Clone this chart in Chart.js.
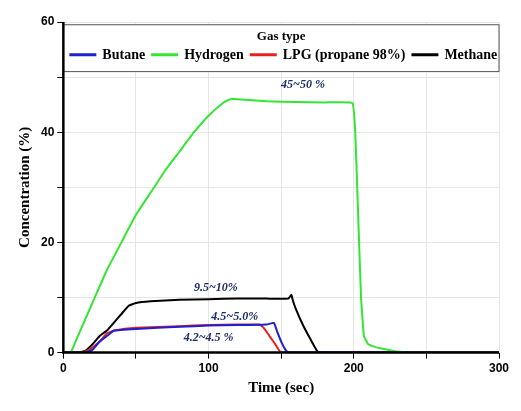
<!DOCTYPE html>
<html>
<head>
<script src="https://cdn.jsdelivr.net/npm/chart.js@4"></script>
<style>
body { margin: 0; background: #fff; }
#wrap { width: 521px; height: 411px; }
</style>
</head>
<body>
<div id="wrap"><canvas id="c"></canvas></div>
<script>
// [time, concentration] pairs
const hydrogen = [[0,0],[5,0],[10,3],[20,9],[30,15],[40,20],[50,25],[60,29],[70,33],[80,36.5],[90,40],[100,43],[110,45.3],[115,46],[120,46],[140,45.6],[160,45.5],[180,45.4],[199,45.3],[201,40],[203,25],[205,10],[207,3],[210,1.5],[215,1],[220,0.7],[230,0.2],[240,0],[300,0]]
const methane = [[0,0],[10,0],[15,0.3],[20,1.5],[25,3],[30,4],[35,5.5],[40,7],[45,8.5],[50,9],[60,9.3],[80,9.6],[100,9.7],[120,9.8],[140,9.8],[155,9.8],[157,10.5],[158,9.5],[160,8],[165,5],[170,2.5],[175,0.2],[180,0],[300,0]]
const butane = [[0,0],[15,0],[20,0.5],[25,2],[30,3],[35,4],[50,4.3],[80,4.7],[100,4.9],[120,5],[140,5.1],[145,5.4],[147,4],[150,2],[153,0.5],[155,0],[300,0]]
const lpg = [[0,0],[12,0],[18,0.5],[25,2],[30,3.5],[35,4],[50,4.5],[80,4.8],[100,5],[120,5.1],[135,5.1],[138,4.5],[142,3],[146,1.5],[150,0],[300,0]]

const seriesNames = ['Butane', 'Hydrogen', 'LPG (propane 98%)', 'Methane']
const seriesColors = ['#1f1fd0', '#33e633', '#e62020', '#000000']
const seriesData = [butane, hydrogen, lpg, methane]

// labels: [text, x, y]
const notes = [['45~50 %', 165, 48.5], ['9.5~10%', 105, 11.8], ['4.5~5.0%', 118, 6.5], ['4.2~4.5 %', 100, 2.6]]

const toPts = arr => arr.map(p => ({ x: p[0], y: p[1] }))

const overlay = {
    id: 'overlay',
    afterDatasetsDraw(chart) {
        const ctx = chart.ctx
        const xs = chart.scales.x, ys = chart.scales.y
        ctx.save()
        // value notes
        ctx.fillStyle = '#1a2a6a'
        ctx.font = 'italic bold 12px "Liberation Serif"'
        ctx.textAlign = 'center'
        ctx.textBaseline = 'middle'
        notes.forEach(n => ctx.fillText(n[0], xs.getPixelForValue(n[1]), ys.getPixelForValue(n[2])))
        // legend box
        const left = xs.left, right = xs.right
        const top = ys.getPixelForValue(59.5), bottom = ys.getPixelForValue(51)
        ctx.fillStyle = '#fff'
        ctx.fillRect(left, top, right - left, bottom - top)
        ctx.strokeStyle = '#555'
        ctx.lineWidth = 1
        ctx.strokeRect(left, top, right - left, bottom - top)
        ctx.fillStyle = '#000'
        ctx.font = 'bold 13px "Liberation Serif"'
        ctx.fillText('Gas type', (left + right) / 2, top + 12)
        ctx.font = 'bold 14px "Liberation Serif"'
        ctx.textAlign = 'left'
        let x = left + 6
        const y = top + 30
        seriesNames.forEach((name, i) => {
            ctx.strokeStyle = seriesColors[i]
            ctx.lineWidth = 3
            ctx.beginPath()
            ctx.moveTo(x, y)
            ctx.lineTo(x + 27, y)
            ctx.stroke()
            ctx.fillText(name, x + 33, y + 1)
            x += 33 + ctx.measureText(name).width + 6
        })
        // thick axis lines
        ctx.strokeStyle = '#000'
        ctx.lineWidth = 2.5
        ctx.beginPath()
        ctx.moveTo(left, ys.top)
        ctx.lineTo(left, ys.bottom)
        ctx.lineTo(right, ys.bottom)
        ctx.stroke()
        ctx.restore()
    }
}

new Chart(document.getElementById('c'), {
    type: 'line',
    data: {
        datasets: seriesData.map((d, i) => ({
            label: seriesNames[i],
            data: toPts(d),
            borderColor: seriesColors[i],
            borderWidth: 2,
            pointRadius: 0,
            tension: 0.1
        }))
    },
    options: {
        responsive: true,
        maintainAspectRatio: false,
        animation: false,
        layout: { padding: { top: 22, right: 22, left: 12, bottom: 10 } },
        plugins: { legend: { display: false }, tooltip: { enabled: false } },
        scales: {
            x: {
                type: 'linear', min: 0, max: 300,
                ticks: {
                    stepSize: 50, color: '#000',
                    font: { family: 'Liberation Sans', weight: 'bold', size: 12 },
                    callback: v => v % 100 === 0 ? v : ''
                },
                grid: { color: '#e6e6e6', tickColor: '#000', tickLength: 6 },
                border: { display: false },
                title: { display: true, text: 'Time (sec)', color: '#000', font: { family: 'Liberation Serif', weight: 'bold', size: 15 }, padding: { top: 0 } }
            },
            y: {
                min: 0, max: 60,
                ticks: {
                    stepSize: 10, color: '#000',
                    font: { family: 'Liberation Sans', weight: 'bold', size: 12 },
                    callback: v => v % 20 === 0 ? v : ''
                },
                grid: { color: '#e6e6e6', tickColor: '#000', tickLength: 6 },
                border: { display: false },
                title: { display: true, text: 'Concentration (%)', color: '#000', font: { family: 'Liberation Serif', weight: 'bold', size: 15 } }
            }
        }
    },
    plugins: [overlay]
})
</script>
</body>
</html>
